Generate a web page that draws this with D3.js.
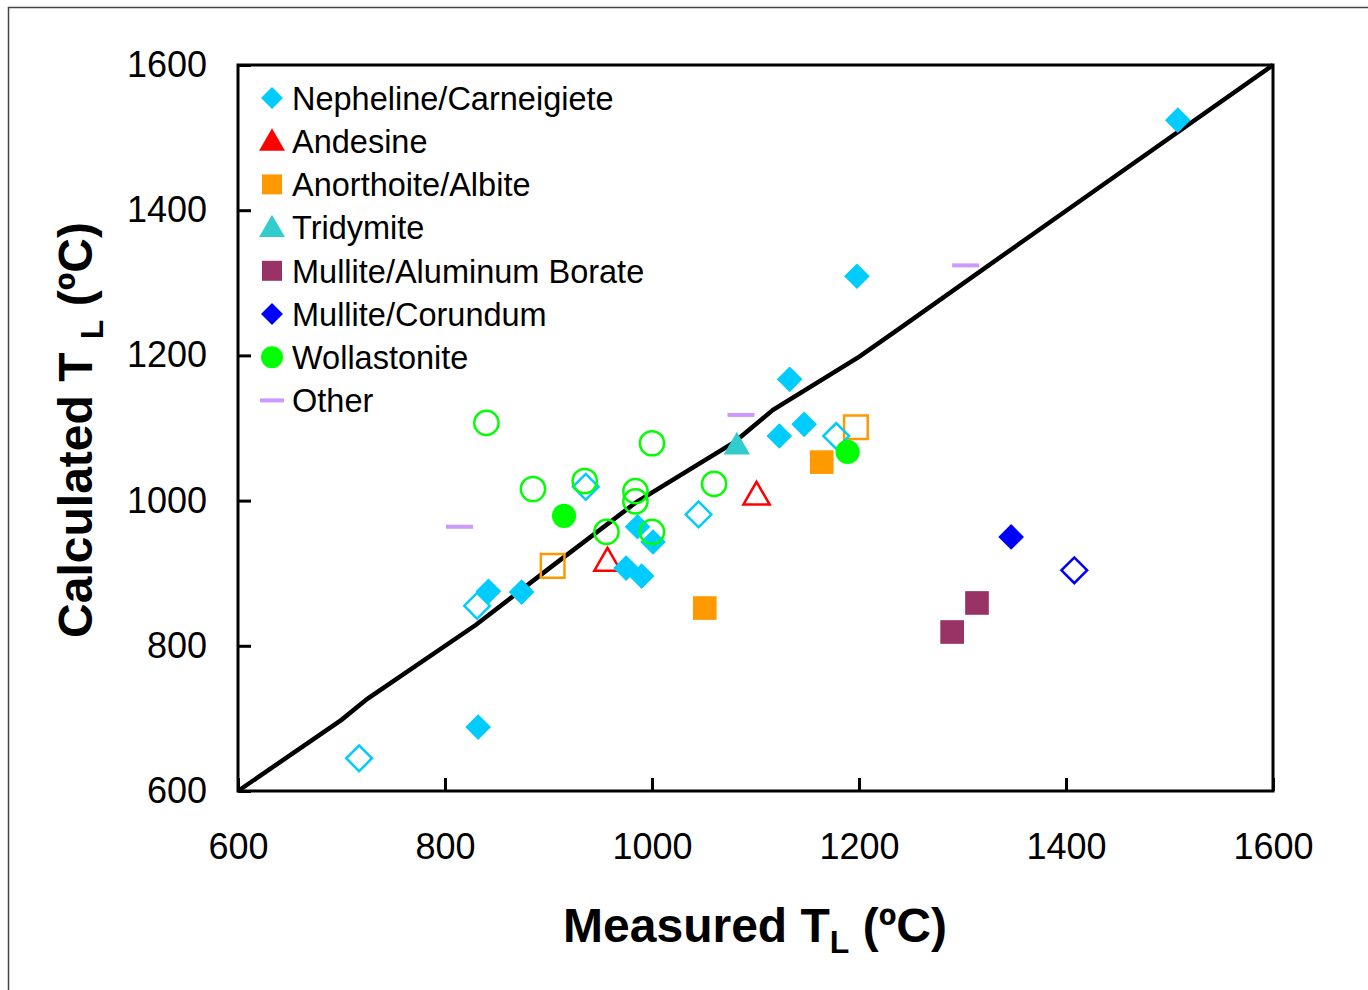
<!DOCTYPE html>
<html>
<head>
<meta charset="utf-8">
<script src="https://cdn.jsdelivr.net/npm/d3@7"></script>
<style>
  body { margin: 0; background: #fff; }
  text { font-family: "Liberation Sans", Arial, sans-serif; }
</style>
</head>
<body>
<svg id="chart" width="1368" height="990"></svg>
<script>
// ---- data: [measured, calculated] ----
const nephelineFilled = [[1508,1524],[1198,1309],[1133,1167],[1147,1105],[1123,1089],[986,964],[1001,943],
  [975,907],[990,896],[842,875],[874,874],[832,688]];
const nephelineOpen = [[717,645],[831,855],[936,1019],[1045,981],[1178,1089]];
const andesineOpen = [[957,914],[1101,1005]];
const anorthoiteFilled = [[1164,1053],[1051,852]];
const anorthoiteOpen = [[904,910],[1197,1101]];
const tridymiteFilled = [[1082,1074]];
const mulliteBorateFilled = [[1290,819],[1314,859]];
const corundumFilled = [[1347,950]];
const corundumOpen = [[1408,904]];
const wollastoniteFilled = [[915,979],[1189,1067]];
const wollastoniteOpen = [[840,1107],[885,1016],[1000,1079],[935,1027],[984,1013],[984,999],[1060,1023],[956,957],[1000,957]];
const otherPts = [[814,964],[1086,1118],[1303,1324]];

// model line
const modelLine = [[600,600],[700,698],[725,727],[830,829],[900,906],[985,998],[1080,1081],[1117,1125],
  [1200,1198],[1240,1238],[1360,1359],[1600,1600]];

const ticks = [600,800,1000,1200,1400,1600];

const legendItems = [
  {name: "Nepheline/Carneigiete", shape: "diamond", color: "#00CCFF"},
  {name: "Andesine", shape: "triangle", color: "#FF0000"},
  {name: "Anorthoite/Albite", shape: "square", color: "#FF9900"},
  {name: "Tridymite", shape: "triangle", color: "#33CCCC"},
  {name: "Mullite/Aluminum Borate", shape: "square", color: "#993366"},
  {name: "Mullite/Corundum", shape: "diamond", color: "#0000FF"},
  {name: "Wollastonite", shape: "circle", color: "#00FF00"},
  {name: "Other", shape: "dash", color: "#CC99FF"}
];

// ---- layout ----
const svg = d3.select("#chart");
const x = d3.scaleLinear().domain([600,1600]).range([238,1273]);
const y = d3.scaleLinear().domain([600,1600]).range([791,65]);

// outer frame (picture border)
svg.append("path").attr("d", "M8.5,990 V7.5 H1368")
  .attr("fill", "none").attr("stroke", "#444").attr("stroke-width", 1.5);

// plot frame
svg.append("rect").attr("x", x(600)).attr("y", y(1600))
  .attr("width", x(1600) - x(600)).attr("height", y(600) - y(1600))
  .attr("fill", "none").attr("stroke", "#000").attr("stroke-width", 3);

const fmt = d3.format("d");
const xAxis = svg.append("g").attr("transform", `translate(0,${y(600)})`)
  .call(d3.axisBottom(x).tickValues(ticks).tickFormat(fmt).tickSizeInner(-13).tickSizeOuter(0).tickPadding(42));
const yAxis = svg.append("g").attr("transform", `translate(${x(600)},0)`)
  .call(d3.axisLeft(y).tickValues(ticks).tickFormat(fmt).tickSizeInner(-13).tickSizeOuter(0).tickPadding(31));
[xAxis, yAxis].forEach(g => {
  g.select(".domain").remove();
  g.selectAll("line").attr("stroke", "#000").attr("stroke-width", 3);
  g.selectAll("text").attr("font-size", 36).attr("fill", "#000")
    .attr("font-family", "Liberation Sans, Arial, sans-serif");
});

// model line
svg.append("path").datum(modelLine)
  .attr("d", d3.line().x(d => x(d[0])).y(d => y(d[1])))
  .attr("fill", "none").attr("stroke", "#000").attr("stroke-width", 4.5);

// marker helper
const symPath = {
  diamond: d3.symbol(d3.symbolSquare, 330)(),
  square: d3.symbol(d3.symbolSquare, 560)(),
  circle: d3.symbol(d3.symbolCircle, 460)(),
  triangle: d3.symbol(d3.symbolTriangle, 300)()
};
function drawPoints(data, shape, color, filled) {
  const g = svg.append("g");
  if (shape === "dash") {
    g.selectAll("rect").data(data).join("rect")
      .attr("x", d => x(d[0]) - 13.5).attr("y", d => y(d[1]) - 2)
      .attr("width", 27).attr("height", 4).attr("fill", color);
    return;
  }
  g.selectAll("path").data(data).join("path")
    .attr("d", symPath[shape])
    .attr("transform", d => `translate(${x(d[0])},${y(d[1])})` + (shape === "diamond" ? " rotate(45)" : ""))
    .attr("fill", filled ? color : "none")
    .attr("stroke", filled ? "none" : color)
    .attr("stroke-width", filled ? 0 : 2.5);
}

drawPoints(otherPts, "dash", "#CC99FF", true);
drawPoints(mulliteBorateFilled, "square", "#993366", true);
drawPoints(corundumFilled, "diamond", "#0000FF", true);
drawPoints(corundumOpen, "diamond", "#0000FF", false);
drawPoints(anorthoiteFilled, "square", "#FF9900", true);
drawPoints(anorthoiteOpen, "square", "#FF9900", false);
drawPoints(tridymiteFilled, "triangle", "#33CCCC", true);
drawPoints(andesineOpen, "triangle", "#FF0000", false);
drawPoints(nephelineFilled, "diamond", "#00CCFF", true);
drawPoints(nephelineOpen, "diamond", "#00CCFF", false);
drawPoints(wollastoniteFilled, "circle", "#00FF00", true);
drawPoints(wollastoniteOpen, "circle", "#00FF00", false);

// legend
const legSym = {
  diamond: d3.symbol(d3.symbolSquare, 240)(),
  square: d3.symbol(d3.symbolSquare, 400)(),
  circle: d3.symbol(d3.symbolCircle, 380)(),
  triangle: d3.symbol(d3.symbolTriangle, 290)()
};
const leg = svg.append("g").selectAll("g").data(legendItems).join("g")
  .attr("transform", (d, i) => `translate(272,${98 + i * 43.2})`);
leg.each(function(d) {
  const g = d3.select(this);
  if (d.shape === "dash") {
    g.append("rect").attr("x", -12).attr("y", -2).attr("width", 24).attr("height", 4).attr("fill", d.color);
  } else {
    g.append("path").attr("d", legSym[d.shape]).attr("fill", d.color)
      .attr("transform", d.shape === "diamond" ? "rotate(45)" : (d.shape === "triangle" ? "translate(0,2)" : null));
  }
});
leg.append("text").attr("x", 20).attr("dy", "0.36em").attr("font-size", 32.5).text(d => d.name);

// axis titles
const xt = svg.append("text").attr("x", 755).attr("y", 942).attr("text-anchor", "middle")
  .attr("font-size", 48).attr("font-weight", "bold");
xt.append("tspan").text("Measured T");
xt.append("tspan").attr("font-size", 32).attr("dy", 11).text("L");
xt.append("tspan").attr("dy", -11).text(" (ºC)");

const yt = svg.append("text").attr("transform", "translate(92,430) rotate(-90)").attr("text-anchor", "middle")
  .attr("font-size", 48).attr("font-weight", "bold");
yt.append("tspan").text("Calculated T ");
yt.append("tspan").attr("font-size", 32).attr("dy", 11).text("L");
yt.append("tspan").attr("dy", -11).text(" (ºC)");
</script>
</body>
</html>
